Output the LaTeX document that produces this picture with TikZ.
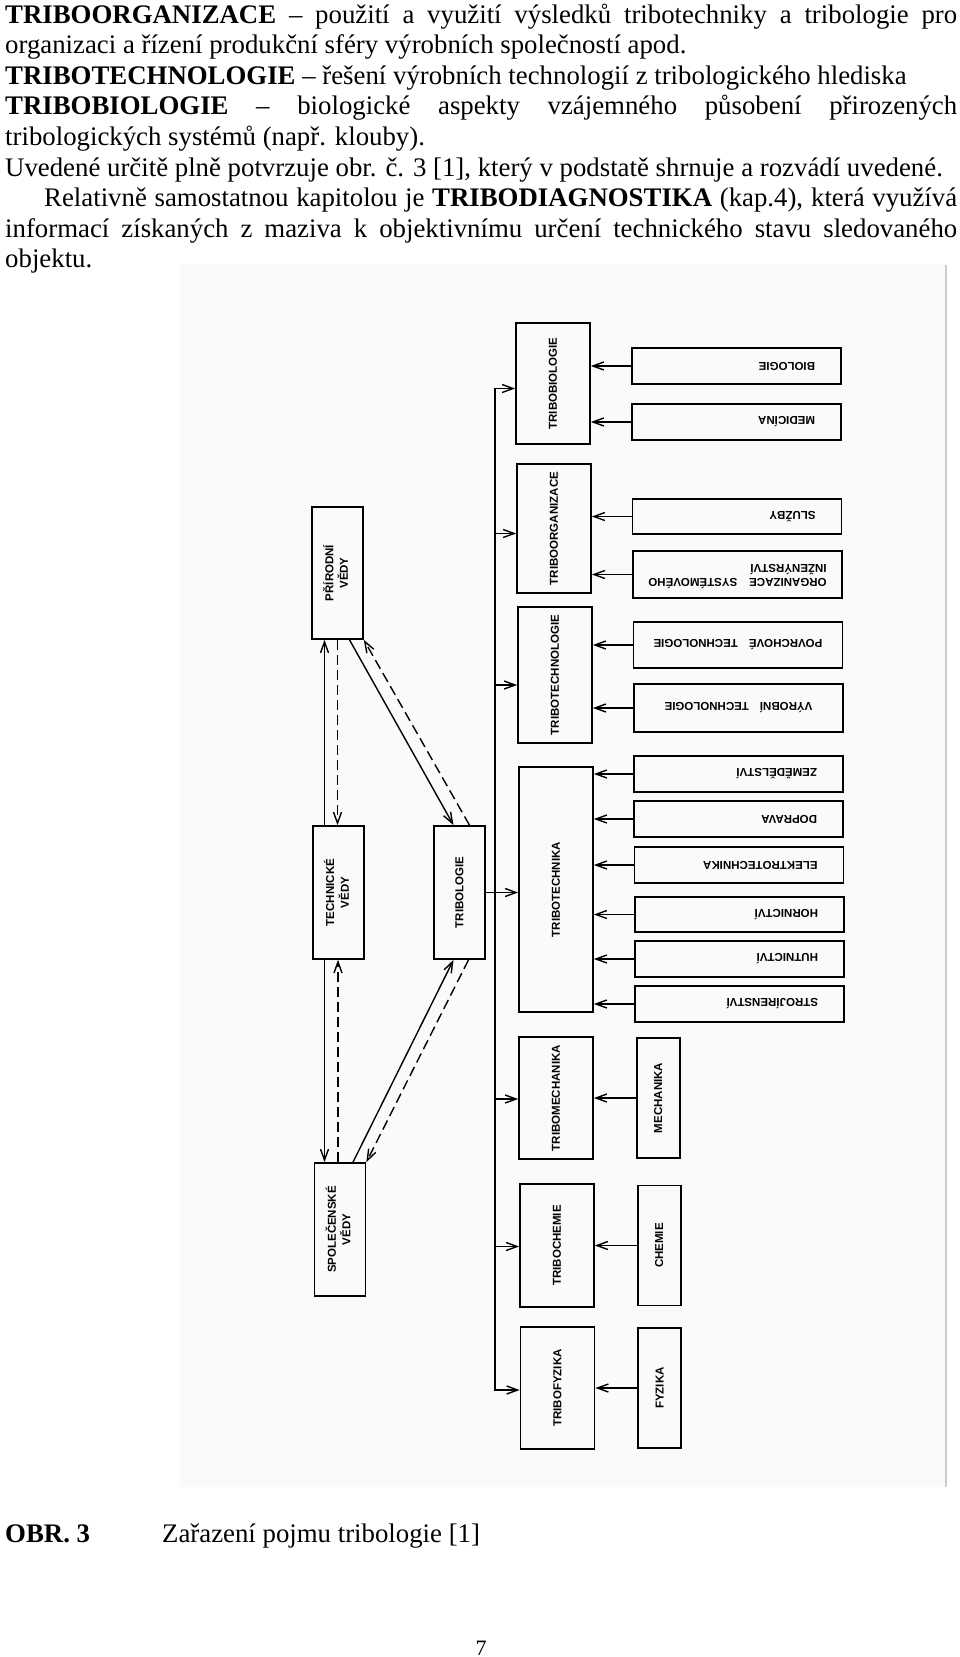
\documentclass[tikz,border=0pt]{standalone}
\usepackage{fontspec}
\setmainfont{Liberation Serif}
\newfontfamily\diagfont{Liberation Sans}
\usepackage{tikz}
\usetikzlibrary{arrows.meta,positioning,calc}

\begin{document}
\begin{tikzpicture}[
        x=1pt, y=-1pt,
        >={Straight Barb[length=11pt,width=8pt]},
        body/.style={
            text width=952pt,
            align=justify,
            inner sep=0pt,
            font=\fontsize{26.8}{30.6}\selectfont
        },
        tribo/.style={
            draw,
            line width=1.7pt,
            minimum width=74pt,
            inner sep=0pt,
            font=\diagfont\bfseries\fontsize{11.5}{14}\selectfont
        },
        veda/.style={
            draw,
            line width=1.7pt,
            minimum width=51pt,
            minimum height=133pt,
            inner sep=0pt,
            font=\diagfont\bfseries\fontsize{11.5}{14}\selectfont
        },
        obor/.style={
            draw,
            line width=1.7pt,
            minimum width=209pt,
            minimum height=36pt,
            text width=157pt,
            inner xsep=26pt,
            inner ysep=0pt,
            align=right,
            font=\diagfont\bfseries\fontsize{11.5}{14}\selectfont
        },
        siroky/.style={text width=, inner xsep=8pt},
        flow/.style={->, line width=1.4pt},
        dflow/.style={flow, dash pattern=on 10pt off 5pt}
    ]
        \useasboundingbox (0,0) rectangle (960,1657);

        % Text nad obrázkem
        \node[body, anchor=base west] (text) at (5,23) {%
            \textbf{TRIBOORGANIZACE} – použití a využití výsledků tribotechniky a tribologie pro\linebreak
            organizaci a řízení produkční sféry výrobních společností apod.\par
            \textbf{TRIBOTECHNOLOGIE} – řešení výrobních technologií z~tribologického hlediska\par
            \textbf{TRIBOBIOLOGIE} – biologické aspekty vzájemného působení přirozených\linebreak
            tribologických systémů (např. klouby).\par
            Uvedené určitě plně potvrzuje obr. č. 3 [1], který v~podstatě shrnuje a rozvádí uvedené.\par
            \hspace*{39pt}Relativně samostatnou kapitolou je \textbf{TRIBODIAGNOSTIKA} (kap.4), která využívá\linebreak
            informací získaných z~maziva k~objektivnímu určení technického stavu sledovaného\linebreak
            objektu.};

        % Podklad skenu
        \fill[black!2] (180,264) rectangle (946,1487);
        \draw[line width=2pt, color={rgb,255:red,214;green,200;blue,196}] (946,265) -- (946,1487);

        % Vědy vlevo
        \node[veda, minimum height=132pt] (prir) at (337.5,573) {\rotatebox{90}{\begin{tabular}{@{}c@{}}PŘÍRODNÍ\\VĚDY\end{tabular}}};
        \node[veda] (tech) at (338.5,892.5) {\rotatebox{90}{\begin{tabular}{@{}c@{}}TECHNICKÉ\\VĚDY\end{tabular}}};
        \node[veda] (trib) at (459.5,892.5) {\rotatebox{90}{TRIBOLOGIE}};
        \node[veda] (spol) at (340,1229.5) {\rotatebox{90}{\begin{tabular}{@{}c@{}}SPOLEČENSKÉ\\VĚDY\end{tabular}}};

        % Tribo obory
        \node[tribo, minimum height=121pt] (tbio) at (553,383.5) {\rotatebox{90}{TRIBOBIOLOGIE}};
        \node[tribo, minimum height=129pt] (torg) at (554,528.5) {\rotatebox{90}{TRIBOORGANIZACE}};
        \node[tribo, minimum height=136pt] (ttechn) at (555,675) {\rotatebox{90}{TRIBOTECHNOLOGIE}};
        \node[tribo, minimum height=245pt] (ttech) at (556,889.5) {\rotatebox{90}{TRIBOTECHNIKA}};
        \node[tribo, minimum height=122pt] (tmech) at (556,1098) {\rotatebox{90}{TRIBOMECHANIKA}};
        \node[tribo, minimum height=123pt] (tchem) at (557,1245.5) {\rotatebox{90}{TRIBOCHEMIE}};
        \node[tribo, minimum height=122pt] (tfyz) at (557.5,1388) {\rotatebox{90}{TRIBOFYZIKA}};

        % Obory vpravo
        \node[obor] (biol) at (736.5,366) {\rotatebox{180}{BIOLOGIE}};
        \node[obor] (medi) at (736.5,422) {\rotatebox{180}{MEDICÍNA}};
        \node[obor, minimum height=35pt] (sluz) at (737,516.5) {\rotatebox{180}{SLUŽBY}};
        \node[obor, siroky, minimum height=47pt] (orgs) at (737.5,574.5) {\rotatebox{180}{\begin{tabular}{@{}l@{}}ORGANIZACE\hspace{12pt}SYSTÉMOVÉHO\\INŽENÝRSTVÍ\end{tabular}}};
        \node[obor, siroky, minimum height=46pt] (povr) at (738,645) {\rotatebox{180}{POVRCHOVÉ\hspace{11pt}TECHNOLOGIE}};
        \node[obor, siroky, minimum height=48pt] (vyro) at (738.5,708) {\rotatebox{180}{VÝROBNÍ\hspace{11pt}TECHNOLOGIE}};
        \node[obor] (zeme) at (738.5,774) {\rotatebox{180}{ZEMĚDĚLSTVÍ}};
        \node[obor] (dopr) at (738.5,819) {\rotatebox{180}{DOPRAVA}};
        \node[obor] (elek) at (739,865) {\rotatebox{180}{ELEKTROTECHNIKA}};
        \node[obor, minimum height=35pt] (horn) at (739.5,914.5) {\rotatebox{180}{HORNICTVÍ}};
        \node[obor] (hutn) at (739.5,959) {\rotatebox{180}{HUTNICTVÍ}};
        \node[obor] (stro) at (739.5,1004) {\rotatebox{180}{STROJÍRENSTVÍ}};

        \node[veda, minimum width=43pt, minimum height=120pt, right=42pt of tmech] (mech) {\rotatebox{90}{MECHANIKA}};
        \node[veda, minimum width=43pt, minimum height=120pt, right=42pt of tchem] (chem) {\rotatebox{90}{CHEMIE}};
        \node[veda, minimum width=43pt, minimum height=120pt, right=42pt of tfyz] (fyzi) {\rotatebox{90}{FYZIKA}};

        % Popis obrázku
        \node[anchor=base west, inner sep=0pt, font=\fontsize{26.8}{30}\selectfont\bfseries] (obr) at (5,1542) {OBR. 3};
        \node[anchor=base west, inner sep=0pt, font=\fontsize{26.8}{30}\selectfont] (popis) at (162,1542) {Zařazení pojmu tribologie [1]};
        \node[anchor=base, inner sep=0pt, font=\fontsize{22}{26}\selectfont] (strana) at (481,1655) {7};

        % Vazby mezi vědami
        \draw[flow] ([xshift=-14pt]tech.north) -- ([xshift=-14pt]tech.north |- prir.south);
        \draw[dflow] (prir.south) -- (prir.south |- tech.north);
        \draw[flow] ([xshift=-14pt]tech.south) -- ([xshift=-14pt]tech.south |- spol.north);
        \draw[dflow] ([xshift=-2pt]spol.north) -- ([xshift=-2pt]spol.north |- tech.south);

        \draw[flow] ([xshift=12pt]prir.south) -- ([xshift=-6pt]trib.north);
        \draw[dflow] ([xshift=10pt]trib.north) -- (prir.south east);
        \draw[flow] ([xshift=13pt]spol.north) -- ([xshift=-6pt]trib.south);
        \draw[dflow] ([xshift=9pt]trib.south) -- (spol.north east);

        % Sběrnice k tribo oborům
        \coordinate (bus) at (495,0);
        \draw[flow, <->] ($(tbio.west)+(0,5)$) -| ($(bus |- tfyz.west)+(0,2)$) -- ($(tfyz.west)+(0,2)$);
        \foreach \t/\d in {torg/5, ttechn/10, tmech/1, tchem/1}
            \draw[flow] ($(bus |- \t.west)+(0,\d)$) -- ($(\t.west)+(0,\d)$);
        \draw[flow] (trib.east) -- (trib.east -| ttech.west);

        % Šipky od oborů
        \foreach \o/\t in {biol/tbio, medi/tbio, sluz/torg, orgs/torg, povr/ttechn, vyro/ttechn,
                zeme/ttech, dopr/ttech, elek/ttech, horn/ttech, hutn/ttech, stro/ttech,
                mech/tmech, chem/tchem, fyzi/tfyz}
            \draw[flow] (\o.west) -- (\o.west -| \t.east);
    \end{tikzpicture}
\end{document}
